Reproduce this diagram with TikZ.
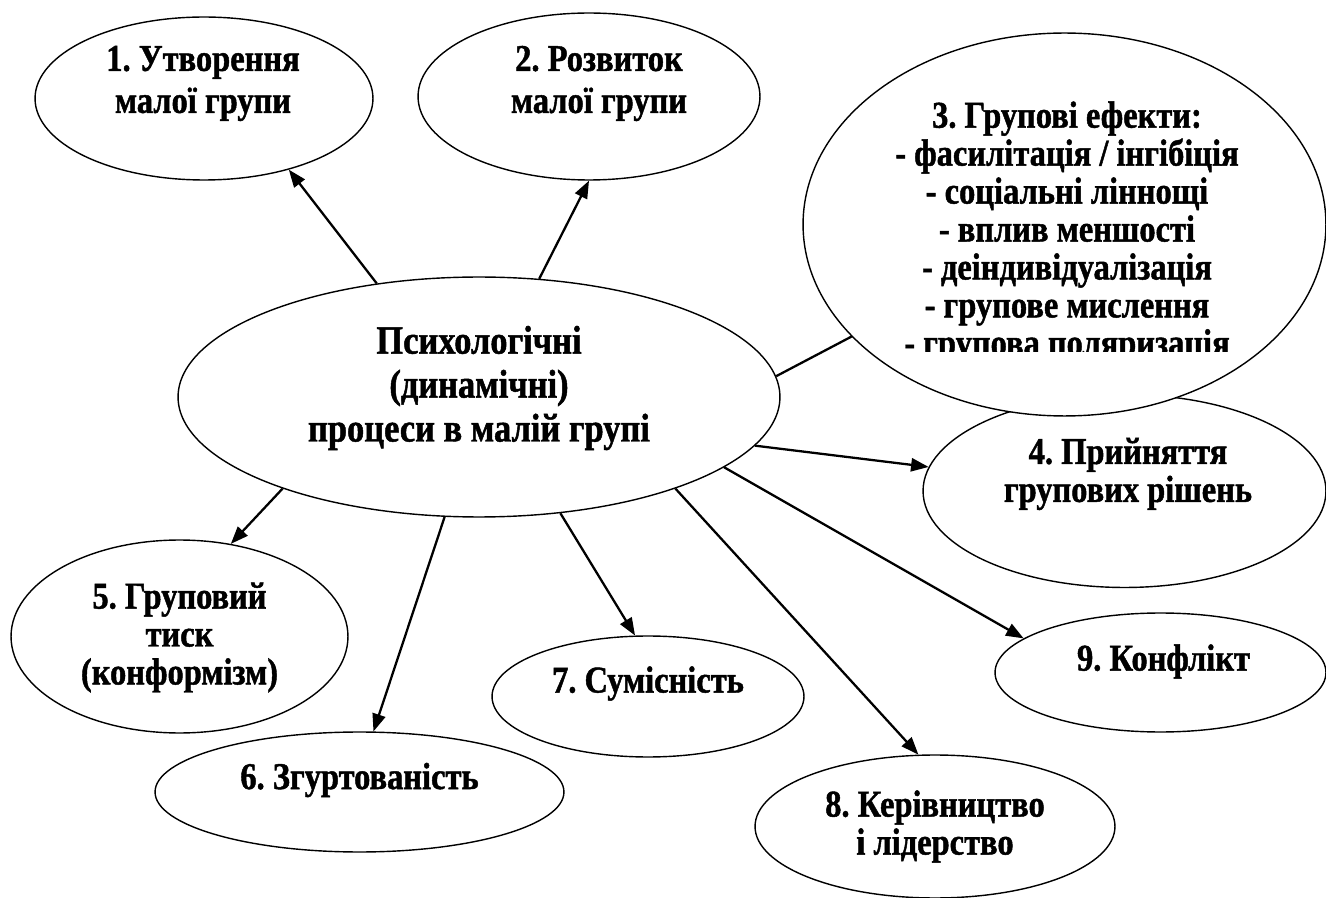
\documentclass[tikz,border=0pt]{standalone}
\usepackage{fontspec}
\setmainfont{Liberation Serif}[FakeStretch=0.86, BoldFeatures={FakeBold=1.2}]
\usepackage{tikz}
\usetikzlibrary{shapes.geometric, arrows.meta, backgrounds}
\frenchspacing
\tikzset{
  bubble/.style={ellipse, draw, fill=white, line width=0.8pt, inner sep=0pt},
  lbl/.style={font=\fontsize{21.5}{21.6}\selectfont\bfseries, align=center, inner sep=0pt},
  biglbl/.style={lbl, font=\fontsize{22.8}{25}\selectfont\bfseries},
  toplbl/.style={lbl, font=\fontsize{21.5}{23.9}\selectfont\bfseries},
  conn/.style={->, line width=1.3pt},
  link/.style={line width=1.3pt},
}

\begin{document}
\begin{tikzpicture}[x=0.02cm, y=-0.02cm, >={Triangle[length=10pt, width=7.5pt]}]
  \useasboundingbox (0,0) rectangle (1326,898);
  \node[bubble, minimum width=12.04cm, minimum height=4.8cm,
    label={[biglbl, shift={(0,-9)}]center:Психологічні\\(динамічні)\\процеси в малій групі}] (c) at (479,397) {};
  \node[bubble, minimum width=6.76cm, minimum height=3.26cm,
    label={[toplbl, shift={(-1,-15)}]center:1. Утворення\\малої групи}] (e1) at (204,98.5) {};
  \node[bubble, minimum width=6.84cm, minimum height=3.34cm,
    label={[toplbl, shift={(10,-13)}]center:2. Розвиток\\малої групи}] (e2) at (589,96.5) {};
  \node[bubble, minimum width=8.06cm, minimum height=3.86cm,
    label={[lbl, shift={(3.5,-17)}]center:4. Прийняття\\групових рішень}] (e4) at (1124.5,491) {};
  \node[bubble, minimum width=10.46cm, minimum height=7.66cm] (e3) at (1064.5,224.5) {};
  \begin{scope}
    \clip (790,30) rectangle (1326,352);
    \node[lbl, shift={(2.5,8)}] (e3txt) at (e3) {3. Групові ефекти:\\- фасилітація / інгібіція\\- соціальні ліннощі\\- вплив меншості\\- деіндивідуалізація\\- групове мислення\\- групова поляризація};
  \end{scope}
  \node[bubble, minimum width=6.74cm, minimum height=3.86cm,
    label={[lbl, shift={(0,1)}]center:5. Груповий\\тиск\\(конформізм)}] (e5) at (179.5,636.5) {};
  \node[bubble, minimum width=8.18cm, minimum height=2.4cm,
    label={[lbl, shift={(0,-12)}]center:6. Згуртованість}] (e6) at (359.5,792) {};
  \node[bubble, minimum width=6.24cm, minimum height=2.42cm,
    label={[lbl, shift={(0,-13)}]center:7. Сумісність}] (e7) at (648,696.5) {};
  \node[bubble, minimum width=7.2cm, minimum height=2.86cm,
    label={[lbl]center:8. Керівництво\\і лідерство}] (e8) at (935,826.5) {};
  \node[bubble, minimum width=6.62cm, minimum height=2.38cm,
    label={[lbl, shift={(3,-11)}]center:9. Конфлікт}] (e9) at (1160.5,672.5) {};
  \begin{scope}[on background layer]
    \draw[conn] (c.132) -- (e1.-40);
    \draw[conn] (c.63) -- (e2.south);
    \draw[link] (c.4) -- (e3.center);
    \draw[conn] (c.-10) -- (e4.173);
    \draw[conn] (c.205) -- (e5.61);
    \draw[conn] (c.254) -- (e6.77);
    \draw[conn] (c.-55) -- (e7.102);
    \draw[conn] (c.-25) -- (e8.103);
    \draw[conn] (c.-16) -- (e9.166);
  \end{scope}
\end{tikzpicture}
\end{document}
